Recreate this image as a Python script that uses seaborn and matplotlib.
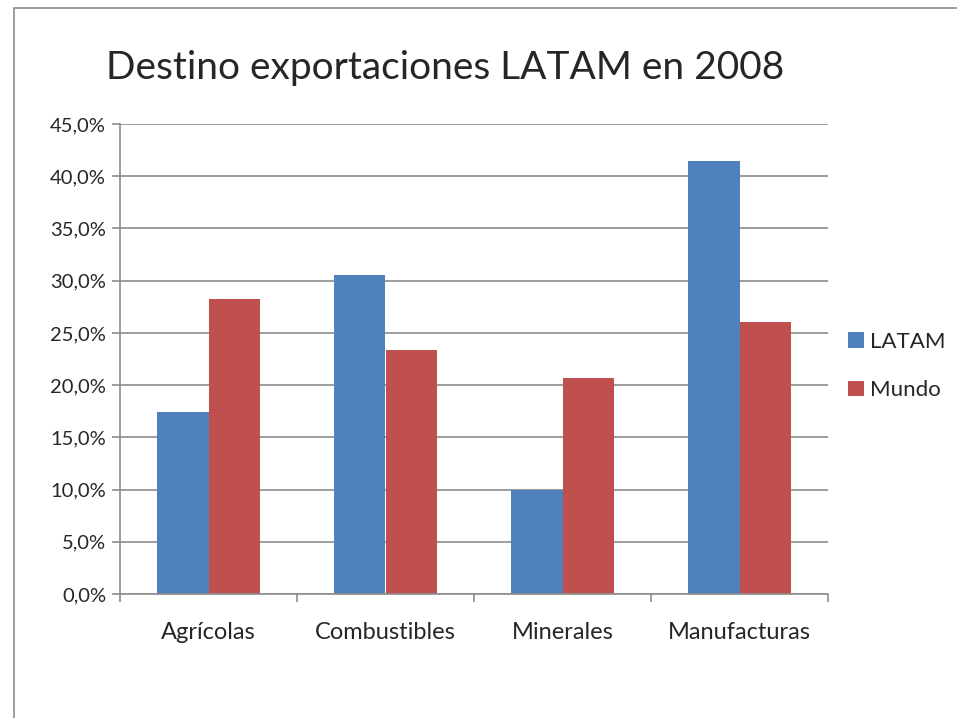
import pandas as pd
import matplotlib.pyplot as plt
import seaborn as sns
from matplotlib.patches import Rectangle
from matplotlib.ticker import FuncFormatter, MultipleLocator

categorias = ["Agrícolas", "Combustibles", "Minerales", "Manufacturas"]
latam = [17.4, 30.5, 10.0, 41.5]
mundo = [28.2, 23.4, 20.7, 26.0]
series = ["LATAM", "Mundo"]
colores = ["#4F81BD", "#C0504D"]

df = pd.DataFrame({
    "categoria": categorias * 2,
    "serie": [series[0]] * 4 + [series[1]] * 4,
    "valor": latam + mundo,
})

sns.set_style("white")
plt.rcParams["font.family"] = ["Lato", "DejaVu Sans"]

fig = plt.figure(figsize=(9.57, 7.18), dpi=100)
ax = fig.add_axes([120 / 957, 124 / 718, 708 / 957, 470 / 718])

sns.barplot(data=df, x="categoria", y="valor", hue="serie", order=categorias,
            hue_order=series, palette=colores, width=0.58, saturation=1,
            linewidth=0, ax=ax, legend=True)

ax.set_ylim(0, 45)
ax.set_xlim(-0.5, 3.5)
ax.yaxis.set_major_locator(MultipleLocator(5))
ax.yaxis.set_major_formatter(FuncFormatter(lambda v, _: f"{v:.1f}%".replace(".", ",")))
ax.yaxis.grid(True, color="#8c8c8c", linewidth=1.2)
ax.set_axisbelow(True)
ax.set_xlabel("")
ax.set_ylabel("")

for s in ["top", "right"]:
    ax.spines[s].set_visible(False)
for s in ["left", "bottom"]:
    ax.spines[s].set_color("#8c8c8c")
    ax.spines[s].set_linewidth(1.2)

# ticks at category boundaries on the x axis
ax.set_xticks([0, 1, 2, 3])
ax.set_xticklabels(categorias)
ax.set_xticks([-0.5, 0.5, 1.5, 2.5, 3.5], minor=True)
ax.tick_params(axis="x", which="major", length=0, pad=20, labelsize=17)
ax.tick_params(axis="x", which="minor", length=6, color="#8c8c8c", width=1.2,
               direction="out", bottom=True)
ax.tick_params(axis="y", length=6, color="#8c8c8c", width=1.2, direction="out",
               left=True, labelsize=14.5, pad=4)

leg = ax.legend(loc="center left", bbox_to_anchor=(1.0, 0.485), frameon=False,
                fontsize=16, handlelength=0.7, handleheight=0.7,
                handletextpad=0.3, labelspacing=1.3)

fig.text(445 / 957, 1 - 68 / 718, "Destino exportaciones LATAM en 2008",
         ha="center", va="center", fontsize=28)

# chart area border
fig.patches.append(Rectangle((14 / 957, -0.05), 1.0, 1 - 8 / 718 + 0.05,
                             transform=fig.transFigure, fill=False,
                             edgecolor="#8c8c8c", linewidth=1.2))

fig.savefig("out.png", dpi=100)
